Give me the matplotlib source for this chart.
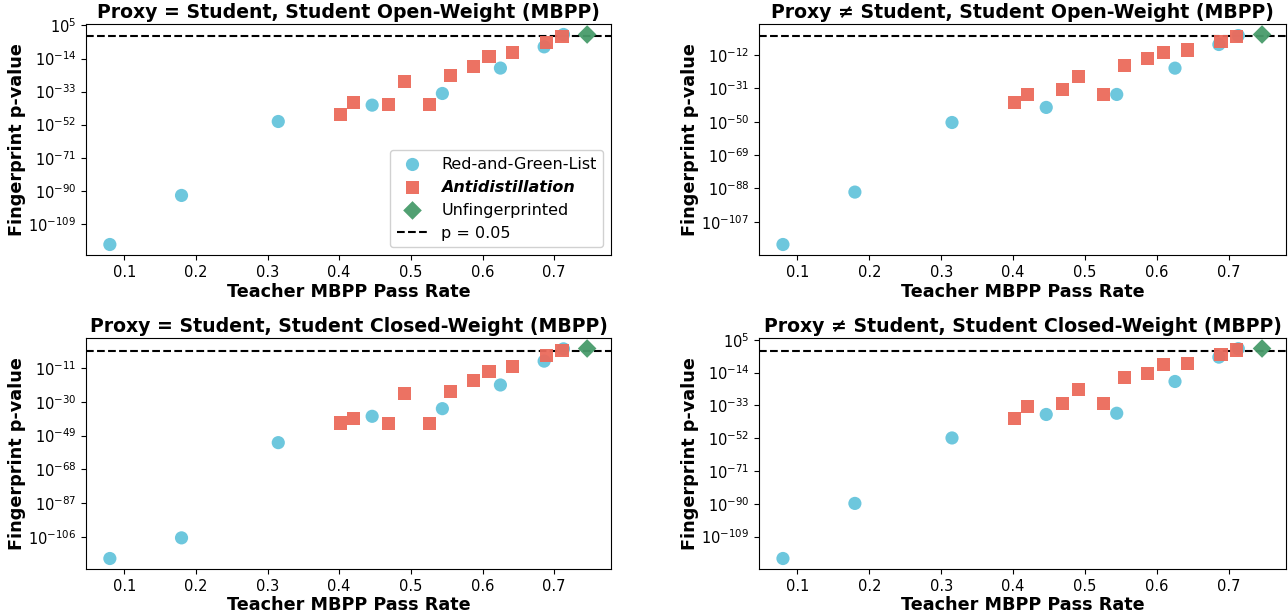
import numpy as np
import matplotlib
matplotlib.use("Agg")
import matplotlib.pyplot as plt
from matplotlib.ticker import FixedLocator, NullLocator, LogFormatterSciNotation

# ---------------- data ----------------
titles = [
    "Proxy = Student, Student Open-Weight (MBPP)",
    "Proxy \u2260 Student, Student Open-Weight (MBPP)",
    "Proxy = Student, Student Closed-Weight (MBPP)",
    "Proxy \u2260 Student, Student Closed-Weight (MBPP)",
]

rg_x = [0.080, 0.180, 0.315, 0.446, 0.544, 0.625, 0.686, 0.713]
ad_x = [0.402, 0.420, 0.469, 0.491, 0.526, 0.555, 0.587, 0.609, 0.642, 0.689, 0.711]
unf_x = [0.746]

# log10 of fingerprint p-values, per panel
rg_log = [
    [-120.9, -92.7, -50.2, -40.8, -34.1, -19.5, -7.3, -0.2],
    [-120.0, -90.1, -50.4, -41.8, -34.4, -19.4, -5.9, -0.8],
    [-118.1, -106.5, -53.0, -38.2, -33.9, -20.6, -7.2, -0.3],
    [-121.7, -89.8, -51.9, -38.3, -37.6, -19.2, -5.1, -0.2],
]
ad_log = [
    [-46.1, -39.3, -40.4, -27.0, -40.6, -23.7, -18.6, -12.8, -10.5, -4.8, -1.5],
    [-39.2, -34.4, -31.6, -24.0, -34.4, -17.7, -13.7, -10.3, -9.0, -4.2, -1.2],
    [-42.0, -39.5, -42.3, -25.3, -42.1, -24.1, -17.9, -13.1, -10.1, -4.1, -1.2],
    [-40.5, -33.9, -31.8, -24.0, -31.8, -17.1, -14.5, -9.5, -8.9, -3.7, -1.0],
]
unf_log = [[-0.2], [-0.2], [-0.1], [-0.1]]

threshold = 0.05

# y tick exponents per panel
ytick_exp = [
    [5, -14, -33, -52, -71, -90, -109],
    [-12, -31, -50, -69, -88, -107],
    [-11, -30, -49, -68, -87, -106],
    [5, -14, -33, -52, -71, -90, -109],
]

# ---------------- style ----------------
c_rg = "#65C4DC"
c_ad = "#EB6A5B"
c_unf = "#479B6A"

W, H = 1288, 613
fig = plt.figure(figsize=(W / 100, H / 100), dpi=100)

boxes = [  # left, top, right, bottom in pixels
    (86, 24, 611, 255),
    (759, 24, 1286, 255),
    (86, 338, 611, 569),
    (759, 338, 1286, 569),
]

for i, (l, t, r, b) in enumerate(boxes):
    ax = fig.add_axes([l / W, 1 - b / H, (r - l) / W, (b - t) / H])
    ax.set_yscale("log")
    ax.scatter(rg_x, 10.0 ** np.array(rg_log[i]), s=90, marker="o", color=c_rg,
               alpha=0.95, edgecolors="none", label="Red-and-Green-List", zorder=3)
    ax.scatter(ad_x, 10.0 ** np.array(ad_log[i]), s=90, marker="s", color=c_ad,
               alpha=0.95, edgecolors="none", label="Antidistillation", zorder=4)
    ax.scatter(unf_x, 10.0 ** np.array(unf_log[i]), s=90, marker="D", color=c_unf,
               alpha=0.95, edgecolors="none", label="Unfingerprinted", zorder=5)
    ax.axhline(threshold, color="black", linestyle="--", linewidth=1.5,
               label="p = 0.05", zorder=2)
    ax.yaxis.set_major_locator(FixedLocator(10.0 ** np.array(ytick_exp[i], dtype=float)))
    ax.yaxis.set_major_formatter(LogFormatterSciNotation())
    ax.yaxis.set_minor_locator(NullLocator())
    ax.tick_params(axis="both", labelsize=10.5)
    ax.set_title(titles[i], fontsize=13.6, fontweight="bold", pad=4)
    ax.set_xlabel("Teacher MBPP Pass Rate", fontsize=12.7, fontweight="bold", labelpad=2)
    ax.set_ylabel("Fingerprint p-value", fontsize=12.7, fontweight="bold", labelpad=1.5)
    if i == 0:
        leg = ax.legend(loc="lower right", fontsize=11.5, framealpha=0.9,
                        borderaxespad=0.5)
        leg.get_texts()[1].set_fontweight("bold")
        leg.get_texts()[1].set_fontstyle("italic")

fig.savefig("out.png", dpi=100)
